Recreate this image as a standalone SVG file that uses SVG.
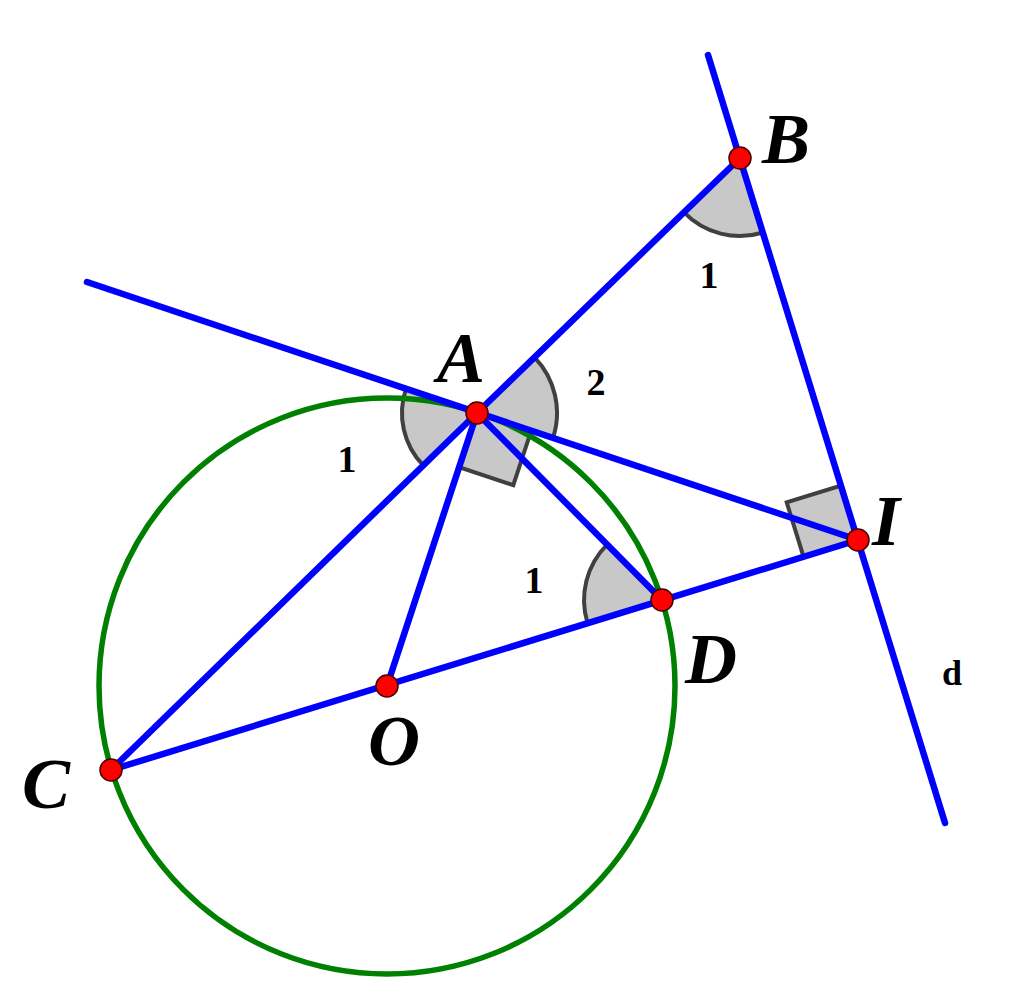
<svg xmlns="http://www.w3.org/2000/svg" width="1024" height="994" viewBox="0 0 1024 994">
<style>
.mark{fill:#c8c8c8;stroke:#404040;stroke-width:4;stroke-linejoin:miter}
.ln{stroke:#0000ff;stroke-width:6.5;fill:none;stroke-linecap:round}
.circ{fill:none;stroke:#008000;stroke-width:5.5}
.pt{fill:#ff0000;stroke:#400000;stroke-width:1.5}
.lbl{font-family:"Liberation Serif",serif;font-weight:bold;font-style:italic;font-size:72px;fill:#000}
.num{font-family:"Liberation Serif",serif;font-weight:bold;font-size:38px;fill:#000;text-anchor:middle}
</style>
<rect width="1024" height="994" fill="#ffffff"/>
<g id="marks">
<path class="mark" d="M740,158 L763.1,232.5 A78,78 0 0,1 684,212.3 Z"/>
<path class="mark" d="M477,413 L534.5,357.3 A80,80 0 0,1 552.9,438.3 Z"/>
<path class="mark" d="M477,413 L423.3,465.4 A75,75 0 0,1 405.9,389.1 Z"/>
<path class="mark" d="M477,413 L459.2,467.2 L513.3,485.2 L531.1,431 Z"/>
<path class="mark" d="M858,540 L803.5,556.7 L786.7,502.3 L841.2,485.6 Z"/>
<path class="mark" d="M662,600 L587.5,622.9 A78,78 0 0,1 607.1,544.6 Z"/>
</g>
<g id="circle-O">
<circle class="circ" cx="387" cy="686" r="288"/>
</g>
<g id="connectors">
<line class="ln" x1="708" y1="55" x2="945" y2="823"/>
<line class="ln" x1="87" y1="282" x2="858" y2="540"/>
<line class="ln" x1="477" y1="413" x2="740" y2="158"/>
<line class="ln" x1="111" y1="770" x2="858" y2="540"/>
<line class="ln" x1="477" y1="413" x2="111" y2="770"/>
<line class="ln" x1="477" y1="413" x2="387" y2="686"/>
<line class="ln" x1="477" y1="413" x2="662" y2="600"/>
</g>
<g id="node-A"><circle class="pt" cx="477" cy="413" r="11"/><text class="lbl" x="437" y="382">A</text></g>
<g id="node-B"><circle class="pt" cx="740" cy="158" r="11"/><text class="lbl" x="762" y="163">B</text></g>
<g id="node-I"><circle class="pt" cx="858" cy="540" r="11"/><text class="lbl" x="872" y="545">I</text></g>
<g id="node-D"><circle class="pt" cx="662" cy="600" r="11"/><text class="lbl" x="685" y="683">D</text></g>
<g id="node-O"><circle class="pt" cx="387" cy="686" r="11"/><text class="lbl" x="368" y="765">O</text></g>
<g id="node-C"><circle class="pt" cx="111" cy="770" r="11"/><text class="lbl" x="22" y="808">C</text></g>
<g id="labels">
<text class="num" x="709" y="288">1</text>
<text class="num" x="596" y="395">2</text>
<text class="num" x="347" y="472">1</text>
<text class="num" x="534" y="593">1</text>
<text class="num" x="952" y="685" style="font-size:36px">d</text>
</g>
</svg>
